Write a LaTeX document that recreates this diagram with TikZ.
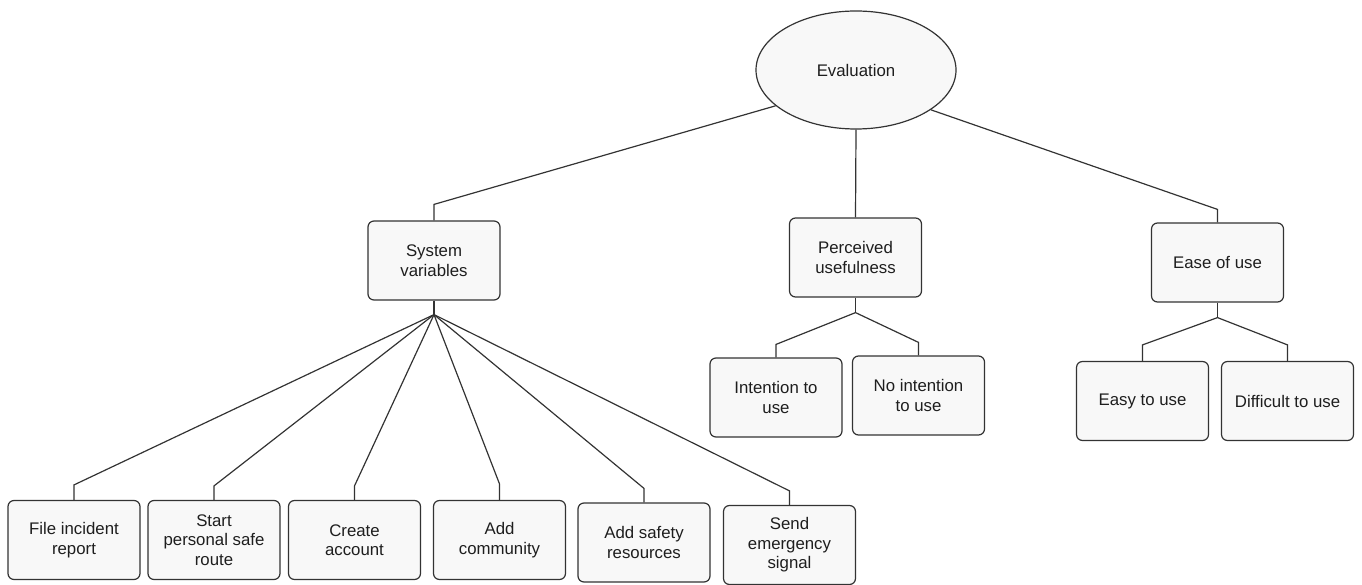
\documentclass[tikz,border=0pt]{standalone}
\usepackage{fontspec}
\setmainfont{Liberation Sans}
\usetikzlibrary{shapes.geometric}
\definecolor{linec}{HTML}{333333}
\definecolor{boxfill}{HTML}{F8F8F8}
\definecolor{textc}{HTML}{1E1E1E}
\tikzset{
  box/.style={draw=linec, fill=boxfill, line width=1.2pt, rounded corners=6pt,
    minimum width=132pt, minimum height=79pt, inner sep=0pt, align=center,
    text=textc, font=\fontsize{16.8pt}{19.5pt}\selectfont},
  oval/.style={draw=linec, fill=boxfill, line width=1.2pt, ellipse,
    minimum width=200pt, minimum height=118pt, inner sep=0pt,
    text=textc, font=\fontsize{16.8pt}{19.5pt}\selectfont},
  conn/.style={draw=linec, line width=1.2pt}
}
\begin{document}
\begin{tikzpicture}[x=1pt,y=-1pt]
\useasboundingbox (0,0) rectangle (1362,585);
\node[oval] (ev) at (856,70) {Evaluation};
\node[box] (sv) at (434,260.5) {System\\variables};
\node[box] (pu) at (855.5,257.5) {Perceived\\usefulness};
\node[box] (eu) at (1217.5,262.5) {Ease of use};
\node[box] (it) at (776,397.5) {Intention to\\use};
\node[box] (ni) at (918.5,395.5) {No intention\\to use};
\node[box] (ez) at (1142.5,401) {Easy to use};
\node[box] (df) at (1287.5,401) {Difficult to use};
\node[box] (b1) at (74,540) {File incident\\report};
\node[box] (b2) at (214,540) {Start\\personal safe\\route};
\node[box] (b3) at (354.5,540) {Create\\account};
\node[box] (b4) at (499.5,540) {Add\\community};
\node[box] (b5) at (644,542.5) {Add safety\\resources};
\node[box] (b6) at (789.5,545) {Send\\emergency\\signal};
% top level
\draw[conn] (ev.204) -- ([yshift=16pt]sv.north) -- (sv.north);
\draw[conn] (ev.south) -- (pu.north);
\draw[conn] (ev.332) -- ([yshift=13pt]eu.north) -- (eu.north);
% perceived usefulness
\coordinate (pf) at ([yshift=-15pt]pu.south);
\draw[conn] (pu.south) -- (pf);
\draw[conn] (pf) -- ([yshift=13pt]it.north) -- (it.north);
\draw[conn] (pf) -- ([yshift=13pt]ni.north) -- (ni.north);
% ease of use
\coordinate (ef) at ([yshift=-15pt]eu.south);
\draw[conn] (eu.south) -- (ef);
\draw[conn] (ef) -- ([yshift=16pt]ez.north) -- (ez.north);
\draw[conn] (ef) -- ([yshift=16pt]df.north) -- (df.north);
% system variables
\coordinate (sf) at ([yshift=-14pt]sv.south);
\draw[conn] (sv.south) -- (sf);
\foreach \b/\h in {b1/15,b2/14,b3/14,b4/16,b5/14,b6/14}{
  \draw[conn] (sf) -- ([yshift=\h pt]\b.north) -- (\b.north);
}
\end{tikzpicture}
\end{document}
